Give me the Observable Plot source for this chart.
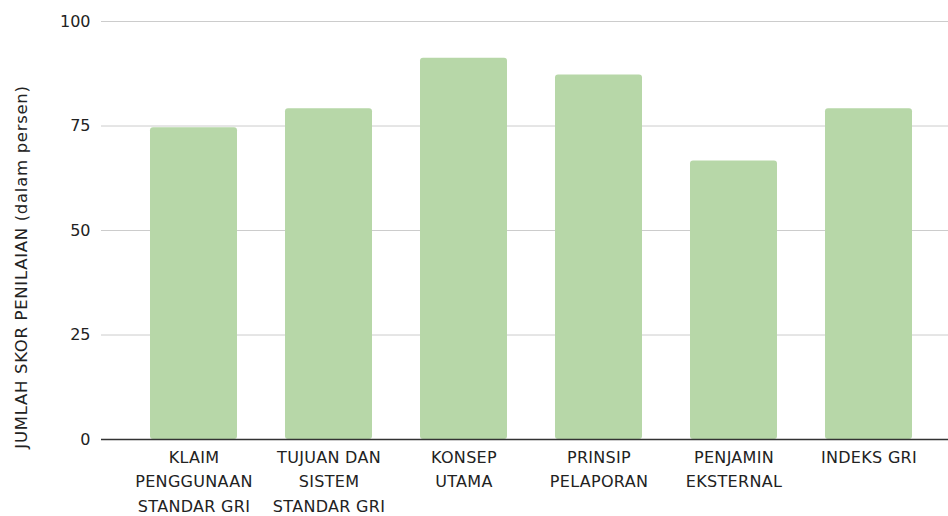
<!DOCTYPE html>
<html>
<head>
<meta charset="utf-8">
<script src="https://cdn.jsdelivr.net/npm/d3@7"></script>
<script src="https://cdn.jsdelivr.net/npm/@observablehq/plot@0.6"></script>
<style>
  html, body { margin: 0; padding: 0; background: #fff; }
  #chart svg { display: block; }
  #chart svg g[aria-label="x-axis tick label"] text { letter-spacing: 0.3px; }
</style>
</head>
<body>
<div id="chart"></div>
<script>
const categories = [
  "KLAIM PENGGUNAAN STANDAR GRI",
  "TUJUAN DAN SISTEM STANDAR GRI",
  "KONSEP UTAMA",
  "PRINSIP PELAPORAN",
  "PENJAMIN EKSTERNAL",
  "INDEKS GRI"
];
const tickLabels = [
  "KLAIM\nPENGGUNAAN\nSTANDAR GRI",
  "TUJUAN DAN\nSISTEM\nSTANDAR GRI",
  "KONSEP\nUTAMA",
  "PRINSIP\nPELAPORAN",
  "PENJAMIN\nEKSTERNAL",
  "INDEKS GRI"
];
const values = [74.6, 79.1, 91.2, 87.2, 66.6, 79.1];
const yTicks = [0, 25, 50, 75, 100];
const yLabel = "JUMLAH SKOR PENILAIAN (dalam persen)";

const data = categories.map((c, i) => ({category: c, value: values[i]}));
const labelOf = new Map(categories.map((c, i) => [c, tickLabels[i]]));

const FONT = "'DejaVu Sans', sans-serif";

const chart = Plot.plot({
  width: 948,
  height: 516,
  marginTop: 21,
  marginBottom: 77,
  marginLeft: 101,
  marginRight: 0,
  style: {fontFamily: FONT, fontSize: "16px", color: "#222", background: "#fff"},
  x: {domain: categories, range: [102.2, 960.1], padding: 0.352},
  y: {domain: [0, 100]},
  marks: [
    Plot.ruleY(yTicks.filter(d => d > 0), {stroke: "#cccccc", strokeWidth: 1}),
    Plot.barY(data, {x: "category", y: "value", fill: "#b7d7a8", rx: 3}),
    Plot.ruleY([0], {stroke: "#333333", strokeWidth: 1.5}),
    Plot.axisY({ticks: yTicks, tickSize: 0, tickPadding: 11, label: null, fontSize: 16}),
    Plot.axisX({tickSize: 0, tickPadding: 6, label: null, tickFormat: d => labelOf.get(d), lineHeight: 1.53, fontSize: 16})
  ]
});

d3.select(chart).append("text")
  .attr("transform", "translate(27,267) rotate(-90)")
  .attr("text-anchor", "middle")
  .attr("fill", "#222")
  .style("font-family", FONT)
  .style("font-size", "16.5px")
  .style("letter-spacing", "0.7px")
  .text(yLabel);

document.getElementById("chart").appendChild(chart);
</script>
</body>
</html>
